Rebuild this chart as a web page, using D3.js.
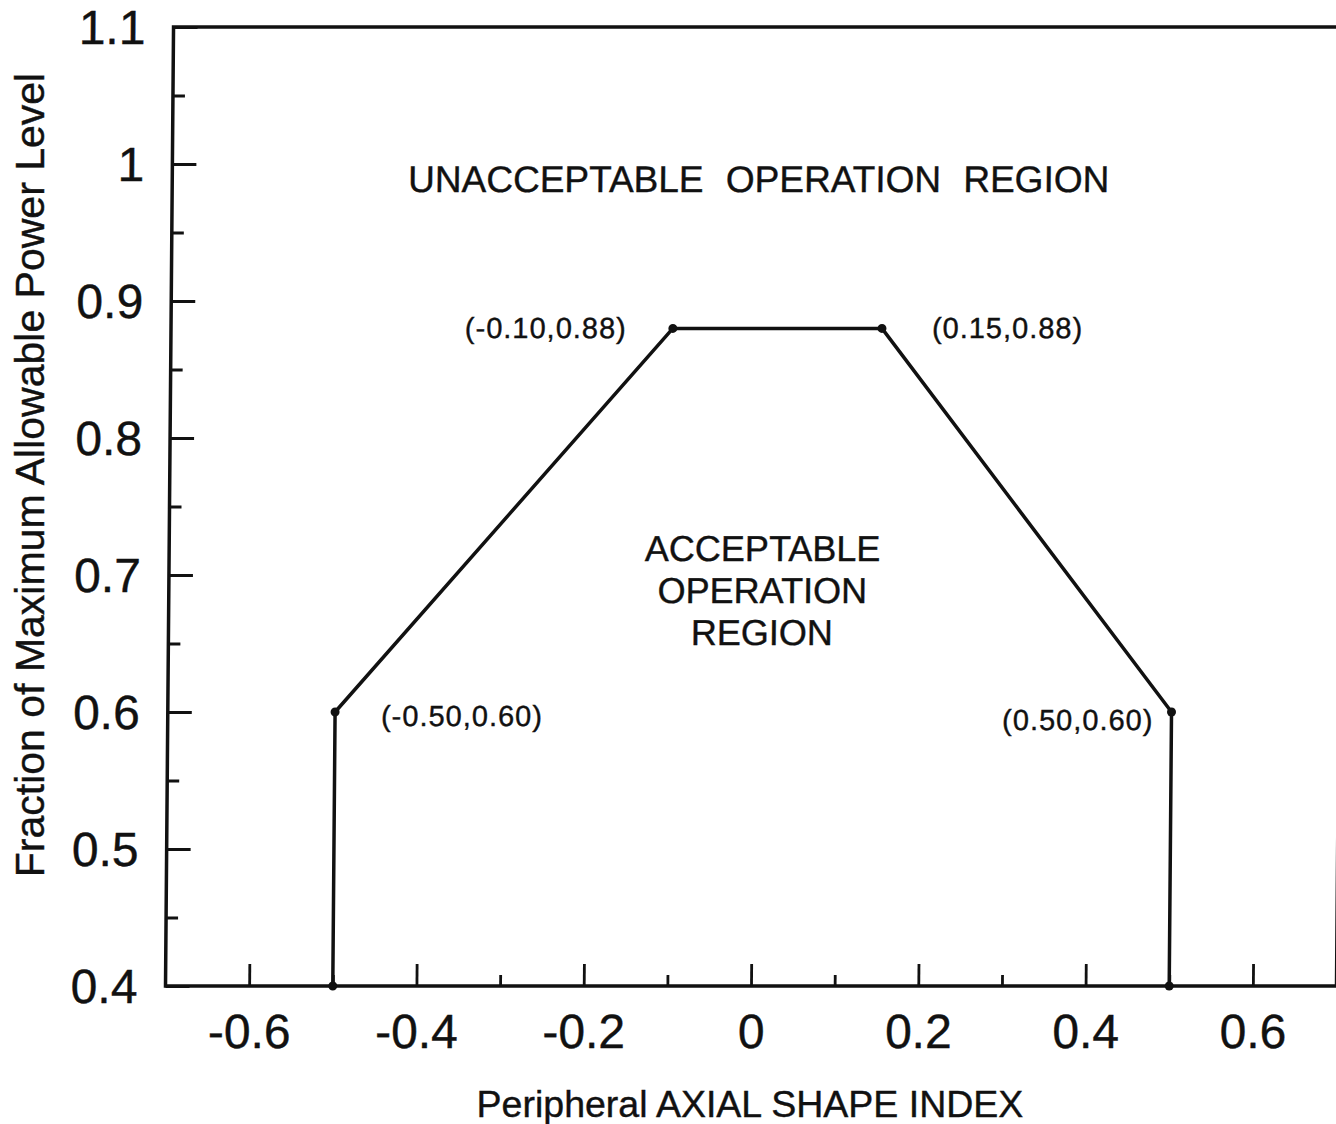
<!DOCTYPE html>
<html>
<head>
<meta charset="utf-8">
<script src="https://cdn.jsdelivr.net/npm/d3@7"></script>
<style>
  body { margin: 0; background: #fff; }
  svg { display: block; }
  text { font-family: "Liberation Sans", Arial, Helvetica, sans-serif; fill: #111; stroke: #111; stroke-width: 0.4; }
</style>
</head>
<body>
<svg width="1336" height="1124"></svg>
<script>
// boundary of the acceptable operation region (vertices, left to right)
const shapeIndex = [-0.5, -0.5, -0.1, 0.15, 0.5, 0.5];
const powerFrac = [0.4, 0.6, 0.88, 0.88, 0.6, 0.4];
// labelled corner points
const cornerLabels = ["(-0.50,0.60)", "(-0.10,0.88)", "(0.15,0.88)", "(0.50,0.60)"];
// tick values
const xMajor = [-0.6, -0.4, -0.2, 0, 0.2, 0.4, 0.6];
const xMinor = [-0.5, -0.3, -0.1, 0.1, 0.3, 0.5];
const yMajor = [0.4, 0.5, 0.6, 0.7, 0.8, 0.9, 1, 1.1];
const yMinor = [0.45, 0.55, 0.65, 0.75, 0.85, 0.95, 1.05];

const svg = d3.select("svg");
const plotL = 165.5, plotR = 1336.5, plotT = 27, plotB = 986;

const x = d3.scaleLinear().domain([-0.7, 0.7]).range([plotL, plotR]);
const y = d3.scaleLinear().domain([0.4, 1.1]).range([plotB, plotT]);

// the scanned figure leans slightly to the right at the top
const g = svg.append("g")
  .attr("transform", "translate(0," + plotB + ") skewX(-0.48) translate(0," + (-plotB) + ")");

// frame: left, bottom, top, and a bit of right edge
g.append("path")
  .attr("d", "M" + plotR + "," + plotT + "H" + plotL + "V" + plotB + "H" + plotR + "V" + plotT)
  .attr("fill", "none")
  .attr("stroke", "#111")
  .attr("stroke-width", 3.5);

// x axis (ticks point inward)
const xAx = g.append("g")
  .attr("transform", "translate(0," + plotB + ")")
  .call(d3.axisBottom(x).tickValues(xMajor).tickSize(-22).tickSizeOuter(0)
    .tickFormat((d) => String(d)));
xAx.select(".domain").remove();
xAx.selectAll("line").attr("stroke", "#111").attr("stroke-width", 2.8);
xAx.selectAll("text")
  .attr("y", 62).attr("dy", 0)
  .attr("font-size", 48)
  .attr("font-family", "Liberation Sans, Arial, sans-serif");

const xMin = g.append("g")
  .attr("transform", "translate(0," + plotB + ")")
  .call(d3.axisBottom(x).tickValues(xMinor).tickSize(-11).tickSizeOuter(0).tickFormat(""));
xMin.select(".domain").remove();
xMin.selectAll("line").attr("stroke", "#111").attr("stroke-width", 2.8);

// y axis
const yAx = g.append("g")
  .attr("transform", "translate(" + plotL + ",0)")
  .call(d3.axisLeft(y).tickValues(yMajor).tickSize(-24).tickSizeOuter(0)
    .tickFormat((d) => String(d)));
yAx.select(".domain").remove();
yAx.selectAll("line").attr("stroke", "#111").attr("stroke-width", 2.8);
yAx.selectAll("text")
  .attr("x", -28).attr("dy", "0.35em")
  .attr("font-size", 48)
  .attr("font-family", "Liberation Sans, Arial, sans-serif");

const yMin = g.append("g")
  .attr("transform", "translate(" + plotL + ",0)")
  .call(d3.axisLeft(y).tickValues(yMinor).tickSize(-12).tickSizeOuter(0).tickFormat(""));
yMin.select(".domain").remove();
yMin.selectAll("line").attr("stroke", "#111").attr("stroke-width", 2.8);

// boundary line
const pts = shapeIndex.map((v, i) => [v, powerFrac[i]]);
const line = d3.line().x((d) => x(d[0])).y((d) => y(d[1]));
g.append("path")
  .datum(pts)
  .attr("d", line)
  .attr("fill", "none")
  .attr("stroke", "#111")
  .attr("stroke-width", 3.5)
  .attr("stroke-linejoin", "round");

g.selectAll(".vertex")
  .data(pts)
  .enter()
  .append("circle")
  .attr("class", "vertex")
  .attr("cx", (d) => x(d[0]))
  .attr("cy", (d) => y(d[1]))
  .attr("r", 4.5)
  .attr("fill", "#111");

// corner annotations
const labelPts = pts.slice(1, 5);
const labelOffsets = [[46, 14, "start"], [-46, 10, "end"], [50, 10, "start"], [-18, 18, "end"]];
g.selectAll(".corner")
  .data(labelPts)
  .enter()
  .append("text")
  .attr("class", "corner")
  .attr("x", (d, i) => x(d[0]) + labelOffsets[i][0])
  .attr("y", (d, i) => y(d[1]) + labelOffsets[i][1])
  .attr("text-anchor", (d, i) => labelOffsets[i][2])
  .attr("font-size", 29)
  .attr("letter-spacing", 1)
  .text((d, i) => cornerLabels[i]);

// region labels
g.append("text")
  .attr("x", 752)
  .attr("y", 192)
  .attr("text-anchor", "middle")
  .attr("font-size", 37)
  .attr("word-spacing", 12)
  .text("UNACCEPTABLE OPERATION REGION");

const inner = g.append("text")
  .attr("text-anchor", "middle")
  .attr("font-size", 36);
["ACCEPTABLE", "OPERATION", "REGION"].forEach((t, i) => {
  inner.append("tspan")
    .attr("x", 759)
    .attr("y", 561 + i * 42)
    .text(t);
});

// axis titles
svg.append("text")
  .attr("x", 750)
  .attr("y", 1117)
  .attr("text-anchor", "middle")
  .attr("font-size", 37.5)
  .text("Peripheral AXIAL SHAPE INDEX");

svg.append("text")
  .attr("transform", "translate(44,475) rotate(-90)")
  .attr("text-anchor", "middle")
  .attr("font-size", 41)
  .text("Fraction of Maximum Allowable Power Level");
</script>
</body>
</html>
